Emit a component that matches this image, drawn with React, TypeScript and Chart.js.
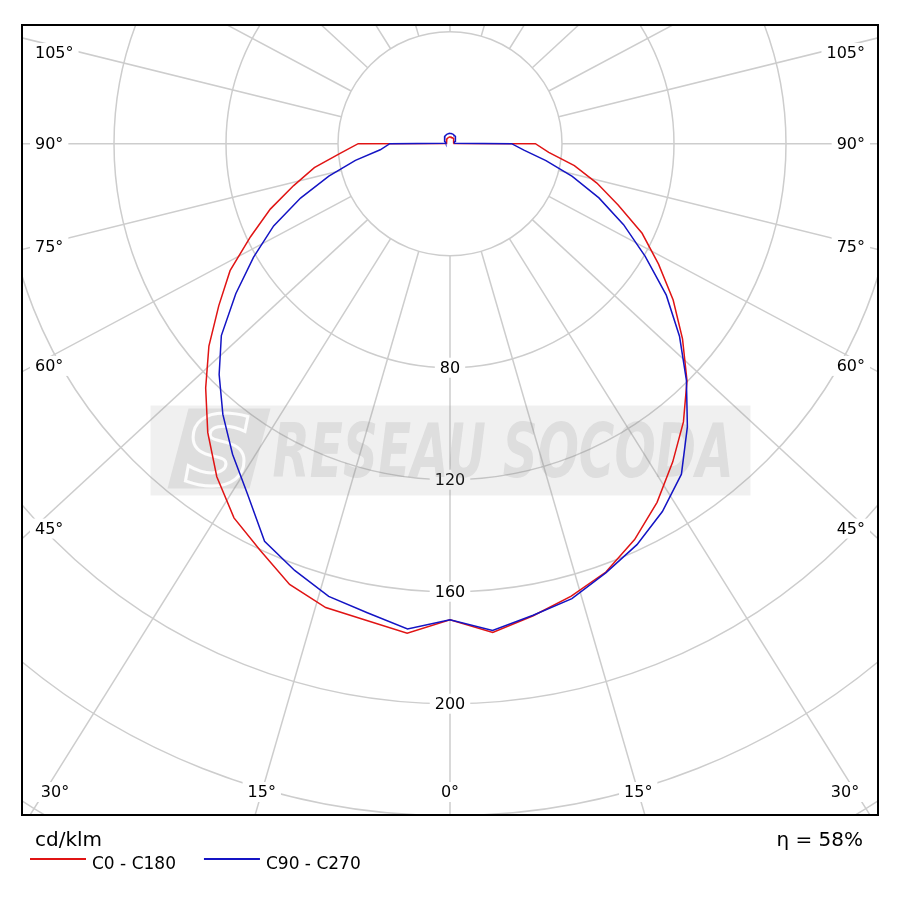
import React, { useEffect, useRef } from "react";
import { Chart, registerables } from "chart.js";

Chart.register(...registerables);

// ---- Data (cd/klm) ----
const gammaDeg = [
  0, 5, 10, 15, 20, 25, 30, 35, 40, 45, 50, 55, 60, 65, 70, 75, 80, 85, 90,
  95, 100, 105, 110, 115, 120, 125, 130, 135, 140, 145, 150, 155, 160, 165, 170, 175, 180,
];

// C0 (right) and C180 (left) - red curve
const c0Values = [
  170, 175.2, 171.2, 167.3, 162.8, 156.0, 147.9, 138.7, 129.7, 119.7, 108.4, 97.3, 86.0, 75.7, 63.9, 54.3, 45.1, 35.4, 30.5,
  1.2, 1.2, 1.3, 1.4, 1.5, 1.6, 1.7, 1.8, 1.9, 2.0, 2.1, 2.2, 2.2, 2.3, 2.3, 2.4, 2.4, 2.4,
];
const c180Values = [
  170, 175.5, 172.8, 171.5, 167.5, 160.3, 154.3, 145.2, 134.6, 123.4, 112.4, 100.8, 90.7, 78.6, 68.3, 57.8, 49.2, 39.4, 32.8,
  1.2, 1.1, 1.2, 1.3, 1.4, 1.5, 1.6, 1.7, 1.8, 1.9, 2.0, 2.1, 2.2, 2.2, 2.3, 2.3, 2.4, 2.4,
];
// C90 (right) and C270 (left) - blue curve
const c90Values = [
  170, 174.5, 171.0, 168.2, 163.0, 158.0, 151.7, 144.1, 131.9, 119.4, 107.0, 94.3, 80.5, 68.4, 56.6, 45.2, 34.8, 26.5, 22.0,
  1.5, 1.5, 1.6, 1.8, 2.0, 2.2, 2.4, 2.6, 2.8, 3.0, 3.2, 3.3, 3.4, 3.5, 3.6, 3.6, 3.7, 3.7,
];
const c270Values = [
  170, 174.0, 170.1, 167.4, 162.2, 156.7, 144.6, 135.4, 126.2, 116.6, 106.6, 93.4, 81.0, 69.5, 56.8, 44.8, 34.3, 25.0, 21.5,
  1.5, 1.5, 1.6, 1.8, 2.0, 2.2, 2.4, 2.6, 2.8, 3.0, 3.2, 3.3, 3.4, 3.5, 3.6, 3.6, 3.7, 3.7,
];

const seriesLabels = ["C0 - C180", "C90 - C270"];
const seriesColors = ["#e01414", "#1414c4"];

const ringValues = [40, 80, 120, 160, 200, 240, 280];
const ringLabelValues = [80, 120, 160, 200];
const spokeAngles = [
  -165, -150, -135, -120, -105, -90, -75, -60, -45, -30, -15, 0,
  15, 30, 45, 60, 75, 90, 105, 120, 135, 150, 165, 180,
];
const angleLabelValues = [0, 15, 30, 45, 60, 75, 90, 105];
const unitLabel = "cd/klm";
const efficiencyLabel = "η = 58%";
const watermarkText = "RESEAU SOCODA";

// ---- Layout constants ----
const CANVAS = 901;
const PAD = { left: 22, top: 25, right: 23, bottom: 86 };
const CENTER = { x: 450, y: 143.7 };
const PX_PER_UNIT = 2.8;
const FONT = '"DejaVu Sans", Verdana, sans-serif';
const GRID = "#cdcdcd";

const xMin = (PAD.left - CENTER.x) / PX_PER_UNIT;
const xMax = (CANVAS - PAD.right - CENTER.x) / PX_PER_UNIT;
const yMax = (CENTER.y - PAD.top) / PX_PER_UNIT;
const yMin = -(CANVAS - PAD.bottom - CENTER.y) / PX_PER_UNIT;

function planePoints(left: number[], right: number[]) {
  const pts: { x: number; y: number }[] = [];
  for (let i = gammaDeg.length - 1; i >= 0; i--) {
    const g = (gammaDeg[i] * Math.PI) / 180;
    pts.push({ x: -left[i] * Math.sin(g), y: -left[i] * Math.cos(g) });
  }
  for (let i = 1; i < gammaDeg.length; i++) {
    const g = (gammaDeg[i] * Math.PI) / 180;
    pts.push({ x: right[i] * Math.sin(g), y: -right[i] * Math.cos(g) });
  }
  return pts;
}

function labelBox(ctx: CanvasRenderingContext2D, text: string, x: number, y: number, align: CanvasTextAlign) {
  const w = ctx.measureText(text).width;
  let left = x;
  if (align === "center") left = x - w / 2;
  else if (align === "right") left = x - w;
  ctx.fillStyle = "#ffffff";
  ctx.fillRect(left - 5, y - 10, w + 10, 20);
  ctx.fillStyle = "#000000";
  ctx.textAlign = align;
  ctx.textBaseline = "middle";
  ctx.fillText(text, x, y + 1);
}

const polarPlugin = {
  id: "polarGrid",
  beforeDatasetsDraw(chart: any) {
    const { ctx, chartArea: a, scales } = chart;
    const xs = scales.x;
    const ys = scales.y;
    const cx = xs.getPixelForValue(0);
    const cy = ys.getPixelForValue(0);
    const unit = xs.getPixelForValue(1) - cx;
    const W = a.right - a.left;
    const H = a.bottom - a.top;

    ctx.save();
    ctx.beginPath();
    ctx.rect(a.left, a.top, W, H);
    ctx.clip();

    // rings
    ctx.strokeStyle = GRID;
    ctx.lineWidth = 1.5;
    for (const v of ringValues) {
      ctx.beginPath();
      ctx.arc(cx, cy, v * unit, 0, Math.PI * 2);
      ctx.stroke();
    }
    // spokes
    const r0 = ringValues[0] * unit;
    for (const g of spokeAngles) {
      const rad = (g * Math.PI) / 180;
      let dx = Math.sin(rad) * W;
      let dy = Math.cos(rad) * H;
      const len = Math.hypot(dx, dy);
      dx /= len;
      dy /= len;
      ctx.beginPath();
      ctx.moveTo(cx + dx * r0, cy + dy * r0);
      ctx.lineTo(cx + dx * 3000, cy + dy * 3000);
      ctx.stroke();
    }

    // angle labels
    ctx.font = `16px ${FONT}`;
    for (const g of angleLabelValues) {
      const sides = g === 0 ? [1] : [-1, 1];
      for (const s of sides) {
        const rad = (g * Math.PI) / 180;
        const dirx = Math.sin(rad) * W;
        const diry = Math.cos(rad) * H;
        const text = `${g}°`;
        if (g <= 30) {
          const y = a.bottom - 23;
          let x = cx + (s * (y - cy) * dirx) / diry;
          x = Math.max(a.left + 33, Math.min(a.right - 33, x));
          labelBox(ctx, text, x, y, "center");
        } else {
          const xi = s < 0 ? a.left + 27 : a.right - 27;
          const yi = cy + (Math.abs(xi - cx) * diry) / dirx;
          let y = yi + 0.04 * (yi - cy);
          y = Math.max(a.top + 28, Math.min(a.bottom - 23, y));
          const tx = s < 0 ? a.left + 13 : a.right - 13;
          labelBox(ctx, text, tx, y, s < 0 ? "left" : "right");
        }
      }
    }
    // ring labels
    for (const v of ringLabelValues) {
      labelBox(ctx, String(v), cx, ys.getPixelForValue(-v), "center");
    }

    // watermark
    const wx = chart.width / 2;
    const wy = chart.height / 2;
    ctx.fillStyle = "rgba(128,128,128,0.12)";
    ctx.fillRect(wx - 300, wy - 45, 600, 90);
    ctx.fillStyle = "rgba(128,128,128,0.17)";
    ctx.font = `bold italic 74px ${FONT}`;
    ctx.textAlign = "left";
    ctx.textBaseline = "alphabetic";
    const tw = ctx.measureText(watermarkText).width;
    ctx.save();
    ctx.translate(wx - 178, wy + 26);
    ctx.scale(461 / tw, 1);
    ctx.fillText(watermarkText, 0, 0);
    ctx.restore();
    // logo: grey slanted block with a white "S" outline
    ctx.save();
    ctx.beginPath();
    ctx.moveTo(wx - 283, wy + 38);
    ctx.lineTo(wx - 262, wy - 42);
    ctx.lineTo(wx - 180, wy - 42);
    ctx.lineTo(wx - 201, wy + 38);
    ctx.closePath();
    ctx.fillStyle = "rgba(128,128,128,0.17)";
    ctx.fill();
    ctx.font = `bold italic 96px ${FONT}`;
    ctx.textAlign = "center";
    ctx.strokeStyle = "rgba(255,255,255,0.9)";
    ctx.lineWidth = 3;
    ctx.strokeText("S", wx - 232, wy + 34);
    ctx.restore();

    ctx.restore();
  },
  afterDatasetsDraw(chart: any) {
    const { ctx, chartArea: a } = chart;
    ctx.save();
    ctx.strokeStyle = "#000000";
    ctx.lineWidth = 2;
    ctx.strokeRect(a.left, a.top, a.right - a.left, a.bottom - a.top);

    // footer
    ctx.fillStyle = "#000000";
    ctx.font = `20px ${FONT}`;
    ctx.textBaseline = "alphabetic";
    ctx.textAlign = "left";
    ctx.fillText(unitLabel, a.left + 13, a.bottom + 31);
    ctx.textAlign = "right";
    ctx.fillText(efficiencyLabel, a.right - 15, a.bottom + 31);

    // legend
    ctx.font = `17px ${FONT}`;
    ctx.textAlign = "left";
    let x0 = a.left + 8;
    const ly = a.bottom + 44;
    chart.data.datasets.forEach((ds: any) => {
      ctx.strokeStyle = ds.borderColor;
      ctx.lineWidth = 2;
      ctx.beginPath();
      ctx.moveTo(x0, ly);
      ctx.lineTo(x0 + 56, ly);
      ctx.stroke();
      ctx.fillStyle = "#000000";
      ctx.fillText(ds.label, x0 + 62, ly + 10);
      x0 += 62 + ctx.measureText(ds.label).width + 28;
    });
    ctx.restore();
  },
};

export default function App() {
  const ref = useRef<HTMLCanvasElement | null>(null);
  useEffect(() => {
    document.body.style.margin = "0";
    document.body.style.background = "#ffffff";
    if (!ref.current) return;
    const chart = new Chart(ref.current, {
      type: "scatter",
      data: {
        datasets: [
          {
            label: seriesLabels[0],
            data: planePoints(c180Values, c0Values),
            borderColor: seriesColors[0],
            backgroundColor: seriesColors[0],
            showLine: true,
            borderWidth: 1.5,
            pointRadius: 0,
            tension: 0,
            order: 1,
          },
          {
            label: seriesLabels[1],
            data: planePoints(c270Values, c90Values),
            borderColor: seriesColors[1],
            backgroundColor: seriesColors[1],
            showLine: true,
            borderWidth: 1.5,
            pointRadius: 0,
            tension: 0,
            order: 0,
          },
        ],
      },
      options: {
        animation: false,
        responsive: false,
        layout: { padding: PAD },
        plugins: { legend: { display: false }, tooltip: { enabled: false }, title: { display: false } },
        scales: {
          x: { type: "linear", min: xMin, max: xMax, display: false },
          y: { type: "linear", min: yMin, max: yMax, display: false },
        },
      },
      plugins: [polarPlugin],
    });
    return () => chart.destroy();
  }, []);
  return <canvas ref={ref} width={CANVAS} height={CANVAS} style={{ display: "block" }} />;
}
